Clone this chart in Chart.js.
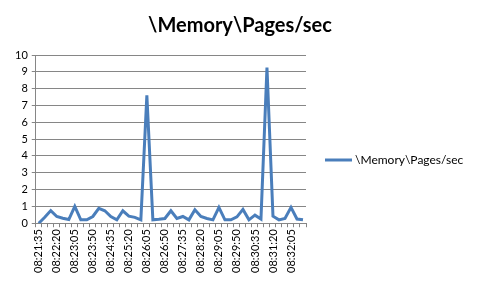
<!DOCTYPE html>
<html>
<head>
<meta charset="utf-8">
<script src="https://cdn.jsdelivr.net/npm/chart.js@4/dist/chart.umd.min.js"></script>
<style>
  html, body { margin: 0; padding: 0; background: #fff; }
  #wrap { width: 480px; height: 288px; position: relative; }
</style>
</head>
<body>
<div id="wrap"><canvas id="grafico"></canvas></div>
<script>
const tempos = [
  "08:21:35", "08:21:50", "08:22:05", "08:22:20", "08:22:35", "08:22:50",
  "08:23:05", "08:23:20", "08:23:35", "08:23:50", "08:24:05", "08:24:20",
  "08:24:35", "08:24:50", "08:25:05", "08:25:20", "08:25:35", "08:25:50",
  "08:26:05", "08:26:20", "08:26:35", "08:26:50", "08:27:05", "08:27:20",
  "08:27:35", "08:27:50", "08:28:05", "08:28:20", "08:28:35", "08:28:50",
  "08:29:05", "08:29:20", "08:29:35", "08:29:50", "08:30:05", "08:30:20",
  "08:30:35", "08:30:50", "08:31:05", "08:31:20", "08:31:35", "08:31:50",
  "08:32:05", "08:32:20", "08:32:35"
];
const paginas = [
  0, 0.35, 0.75, 0.4, 0.3, 0.22, 1.0, 0.2, 0.2, 0.4, 0.88, 0.74,
  0.4, 0.2, 0.74, 0.42, 0.35, 0.2, 7.6, 0.2, 0.23, 0.28, 0.74, 0.28,
  0.4, 0.2, 0.8, 0.4, 0.28, 0.2, 0.94, 0.2, 0.2, 0.38, 0.82, 0.2,
  0.48, 0.25, 9.26, 0.42, 0.2, 0.28, 0.94, 0.25, 0.2
];
const serie = "\\Memory\\Pages/sec";
const cor = "#4a7ebb";
const cinza = "#868686";

// título centrado na largura toda e legenda à direita da área do gráfico
const tituloELegenda = {
  id: 'tituloELegenda',
  afterDraw(chart) {
    const c = chart.ctx;
    const ds = chart.data.datasets[0];
    c.save();
    c.fillStyle = '#000';
    c.font = 'bold 20px Lato';
    c.textAlign = 'center';
    c.textBaseline = 'middle';
    c.fillText(serie, chart.width / 2, 26);

    const y = 160;
    c.strokeStyle = ds.borderColor;
    c.lineWidth = 3;
    c.beginPath();
    c.moveTo(325, y);
    c.lineTo(352, y);
    c.stroke();
    c.font = '12px Lato';
    c.textAlign = 'left';
    c.fillText(ds.label, 355, y);
    c.restore();
  }
};

const ctx = document.getElementById('grafico').getContext('2d');

const chart = new Chart(ctx, {
  type: 'line',
  data: {
    labels: tempos,
    datasets: [{
      label: serie,
      data: paginas,
      borderColor: cor,
      backgroundColor: cor,
      borderWidth: 3,
      pointRadius: 0,
      tension: 0
    }]
  },
  plugins: [tituloELegenda],
  options: {
    responsive: true,
    maintainAspectRatio: false,
    animation: false,
    layout: { padding: { left: 11, right: 174, top: 55, bottom: 13 } },
    plugins: {
      title: { display: false },
      legend: { display: false },
      tooltip: { enabled: false }
    },
    scales: {
      x: {
        offset: true,
        grid: {
          offset: true,
          drawOnChartArea: false,
          drawTicks: true,
          tickLength: 4,
          color: cinza
        },
        border: { color: cinza },
        ticks: {
          autoSkip: false,
          maxRotation: 90,
          minRotation: 90,
          color: '#000',
          font: { family: 'Lato', size: 11 },
          padding: 2,
          callback(value, i) {
            return i % 3 === 0 ? tempos[i] : '';
          }
        }
      },
      y: {
        min: 0,
        max: 10,
        grid: { color: cinza, tickLength: 4 },
        border: { color: cinza },
        ticks: {
          stepSize: 1,
          color: '#000',
          font: { family: 'Lato', size: 11 },
          padding: 4
        }
      }
    }
  }
});
</script>
</body>
</html>
